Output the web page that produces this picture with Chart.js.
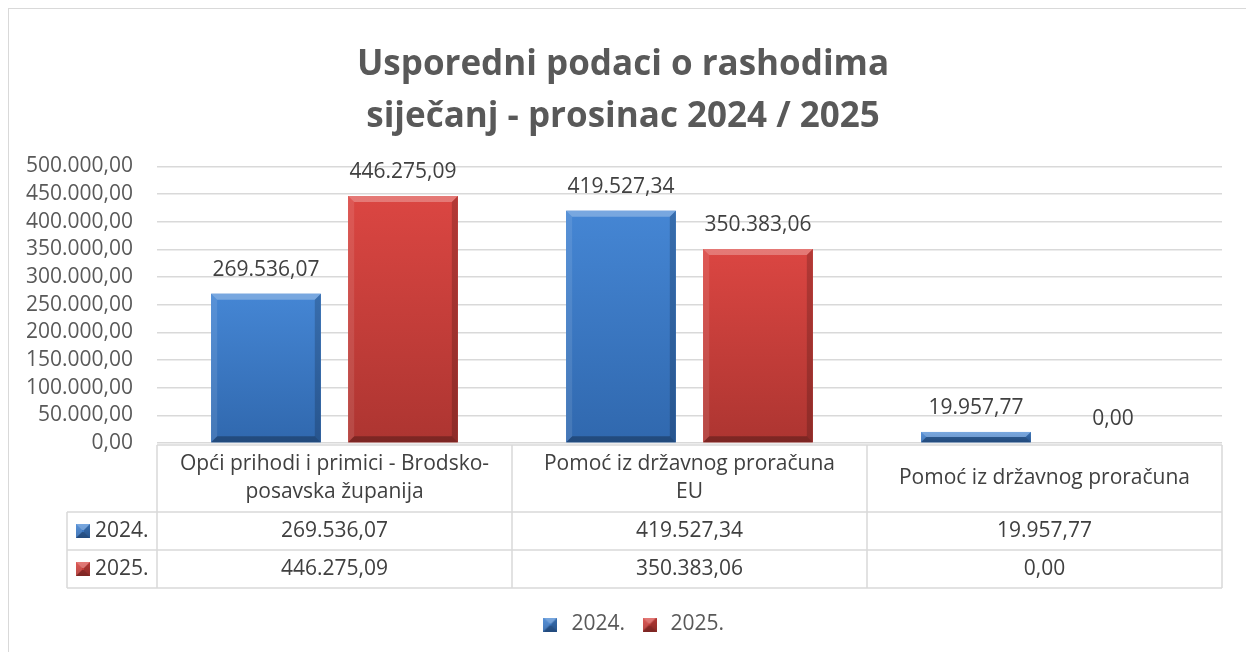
<!DOCTYPE html>
<html>
<head>
<meta charset="utf-8">
<script src="https://cdn.jsdelivr.net/npm/chart.js@4/dist/chart.umd.min.js"></script>
<style>
    html, body { margin: 0; padding: 0; background: #fff; }
</style>
</head>
<body>
<canvas id="rashodi" width="1246" height="652"></canvas>
<script>
/*global Chart: true*/

// podaci
var categories = [
    ['Opći prihodi i primici - Brodsko-', 'posavska županija'],
    ['Pomoć iz državnog proračuna', 'EU'],
    'Pomoć iz državnog proračuna'
];
var seriesNames = ['2024.', '2025.'];
var values2024 = [269536.07, 419527.34, 19957.77];
var values2025 = [446275.09, 350383.06, 0];
var yMin = 0, yMax = 500000, yStep = 50000;
var titleLines = ['Usporedni podaci o rashodima', 'siječanj - prosinac 2024 / 2025'];

(function () {
    'use strict';

    var FONT = "'Open Sans', 'Noto Sans', sans-serif";
    var colors = [
        { base: '#3c7dcb', top: '#4586d4', bottom: '#3068ae' },
        { base: '#d4403c', top: '#db4642', bottom: '#ad3531' }
    ];

    // hrvatski format broja: 1.234,56
    function fmt(v) {
        var parts = Number(v).toFixed(2).split('.');
        parts[0] = parts[0].replace(/\B(?=(\d{3})+(?!\d))/g, '.');
        return parts[0] + ',' + parts[1];
    }

    function bevelBox(ctx, l, t, r, b, c) {
        var h = b - t, w = r - l, s = Math.min(6, h / 2, w / 2), g;
        g = ctx.createLinearGradient(0, t, 0, b);
        g.addColorStop(0, c.top);
        g.addColorStop(1, c.bottom);
        ctx.fillStyle = g;
        ctx.fillRect(l, t, w, h);
        // gornji rub
        ctx.fillStyle = 'rgba(255,255,255,0.28)';
        ctx.beginPath();
        ctx.moveTo(l, t); ctx.lineTo(r, t); ctx.lineTo(r - s, t + s); ctx.lineTo(l + s, t + s);
        ctx.closePath(); ctx.fill();
        // lijevi rub
        ctx.fillStyle = 'rgba(255,255,255,0.10)';
        ctx.beginPath();
        ctx.moveTo(l, t); ctx.lineTo(l + s, t + s); ctx.lineTo(l + s, b - s); ctx.lineTo(l, b);
        ctx.closePath(); ctx.fill();
        // desni rub
        ctx.fillStyle = 'rgba(0,0,0,0.18)';
        ctx.beginPath();
        ctx.moveTo(r, t); ctx.lineTo(r, b); ctx.lineTo(r - s, b - s); ctx.lineTo(r - s, t + s);
        ctx.closePath(); ctx.fill();
        // donji rub
        ctx.fillStyle = 'rgba(0,0,0,0.28)';
        ctx.beginPath();
        ctx.moveTo(l, b); ctx.lineTo(r, b); ctx.lineTo(r - s, b - s); ctx.lineTo(l + s, b - s);
        ctx.closePath(); ctx.fill();
    }

    // mala ikona za legendu
    function keyIcon(c) {
        var cv = document.createElement('canvas');
        cv.width = 14; cv.height = 14;
        bevelBox(cv.getContext('2d'), 0, 0, 14, 14, c);
        return cv;
    }

    var frame = {
        id: 'frame',
        beforeDraw: function (chart) {
            var ctx = chart.ctx;
            ctx.save();
            ctx.fillStyle = '#fff';
            ctx.fillRect(0, 0, chart.width, chart.height);
            ctx.strokeStyle = '#d9d9d9';
            ctx.lineWidth = 1;
            ctx.strokeRect(8.5, 8.5, chart.width + 20, chart.height + 20);
            ctx.restore();
        },
        afterLayout: function (chart) {
            // legenda je u originalu malo desnije
            chart.legend.left += 9;
            chart.legend.right += 9;
        }
    };

    // stupci s kosim rubom + oznake vrijednosti
    var bars = {
        id: 'bars',
        afterDatasetsDraw: function (chart) {
            var ctx = chart.ctx;
            ctx.save();
            chart.getSortedVisibleDatasetMetas().forEach(function (meta) {
                var c = colors[meta.index];
                meta.data.forEach(function (bar, i) {
                    var p = bar.getProps(['x', 'y', 'base', 'width'], true);
                    var l = p.x - p.width / 2, r = p.x + p.width / 2;
                    var t = Math.min(p.y, p.base), b = Math.max(p.y, p.base);
                    if (b - t >= 1) {
                        bevelBox(ctx, l, t, r, b, c);
                    }
                    ctx.fillStyle = '#404040';
                    ctx.font = '21px ' + FONT;
                    ctx.textAlign = 'center';
                    ctx.textBaseline = 'middle';
                    ctx.fillText(fmt(chart.data.datasets[meta.index].data[i]), p.x, t - 24);
                });
            });
            ctx.restore();
        }
    };

    // tablica podataka ispod osi
    var table = {
        id: 'table',
        afterDraw: function (chart) {
            var ctx = chart.ctx, xs = chart.scales.x;
            var n = chart.data.labels.length, colW = xs.width / n;
            var left = xs.left, right = xs.right;
            var keyLeft = 67, top = xs.top + 2, headH = 67, rowH = 38;
            var rows = chart.data.datasets;
            var bottom = top + headH + rowH * rows.length;
            var i, j, y;

            ctx.save();
            ctx.strokeStyle = '#d9d9d9';
            ctx.lineWidth = 1.5;
            ctx.beginPath();
            ctx.moveTo(left, top); ctx.lineTo(right, top);
            for (j = 0; j <= rows.length; j++) {
                y = top + headH + rowH * j;
                ctx.moveTo(keyLeft, y); ctx.lineTo(right, y);
            }
            ctx.moveTo(keyLeft, top + headH); ctx.lineTo(keyLeft, bottom);
            for (i = 0; i <= n; i++) {
                ctx.moveTo(left + colW * i, top); ctx.lineTo(left + colW * i, bottom);
            }
            ctx.stroke();

            ctx.fillStyle = '#404040';
            ctx.font = '21px ' + FONT;
            ctx.textAlign = 'center';
            ctx.textBaseline = 'middle';
            chart.data.labels.forEach(function (lab, k) {
                var lines = [].concat(lab), cx = xs.getPixelForValue(k);
                var cy = top + headH / 2 - (lines.length - 1) * 14;
                lines.forEach(function (ln, m) {
                    ctx.fillText(ln, cx, cy + m * 28);
                });
                rows.forEach(function (ds, r) {
                    ctx.fillText(fmt(ds.data[k]), cx, top + headH + rowH * r + rowH / 2);
                });
            });

            ctx.textAlign = 'left';
            rows.forEach(function (ds, r) {
                var cy = top + headH + rowH * r + rowH / 2;
                bevelBox(ctx, 76, cy - 7, 90, cy + 7, colors[r]);
                ctx.fillStyle = '#404040';
                ctx.fillText(ds.label, 95, cy);
            });
            ctx.restore();
        }
    };

    var icons = [keyIcon(colors[0]), keyIcon(colors[1])];

    var ctx = document.getElementById('rashodi').getContext('2d');
    var chart = new Chart(ctx, {
        type: 'bar',
        data: {
            labels: categories,
            datasets: [{
                label: seriesNames[0],
                data: values2024,
                backgroundColor: colors[0].base,
                borderWidth: 0
            }, {
                label: seriesNames[1],
                data: values2025,
                backgroundColor: colors[1].base,
                borderWidth: 0
            }]
        },
        options: {
            responsive: false,
            animation: false,
            devicePixelRatio: 1,
            layout: { padding: { top: 8, left: 24, right: 24, bottom: 7 } },
            datasets: { bar: { categoryPercentage: 0.772, barPercentage: 0.8 } },
            scales: {
                x: {
                    grid: { display: false },
                    border: { display: false },
                    ticks: { display: false },
                    afterFit: function (scale) { scale.height = 157; }
                },
                y: {
                    min: yMin,
                    max: yMax,
                    grid: { color: '#d9d9d9', lineWidth: 1.5, drawTicks: false },
                    border: { display: false },
                    ticks: {
                        stepSize: yStep,
                        autoSkip: false,
                        padding: 24,
                        color: '#595959',
                        font: { family: FONT, size: 21 },
                        callback: function (v) { return fmt(v); }
                    },
                    afterFit: function (scale) { scale.width = 133; }
                }
            },
            plugins: {
                title: {
                    display: true,
                    text: titleLines,
                    color: '#595959',
                    font: { family: FONT, size: 35, weight: 'bold', lineHeight: 1.49 },
                    padding: { top: 31, bottom: 23 }
                },
                legend: {
                    position: 'bottom',
                    labels: {
                        usePointStyle: true,
                        boxHeight: 14,
                        padding: 14,
                        color: '#595959',
                        font: { family: FONT, size: 21 },
                        generateLabels: function (ch) {
                            return ch.data.datasets.map(function (ds, k) {
                                return {
                                    text: ds.label,
                                    fontColor: '#595959',
                                    fillStyle: ds.backgroundColor,
                                    strokeStyle: ds.backgroundColor,
                                    lineWidth: 0,
                                    pointStyle: icons[k],
                                    hidden: false,
                                    datasetIndex: k
                                };
                            });
                        }
                    }
                },
                tooltip: { enabled: false }
            }
        },
        plugins: [frame, bars, table]
    });
})();
</script>
</body>
</html>
